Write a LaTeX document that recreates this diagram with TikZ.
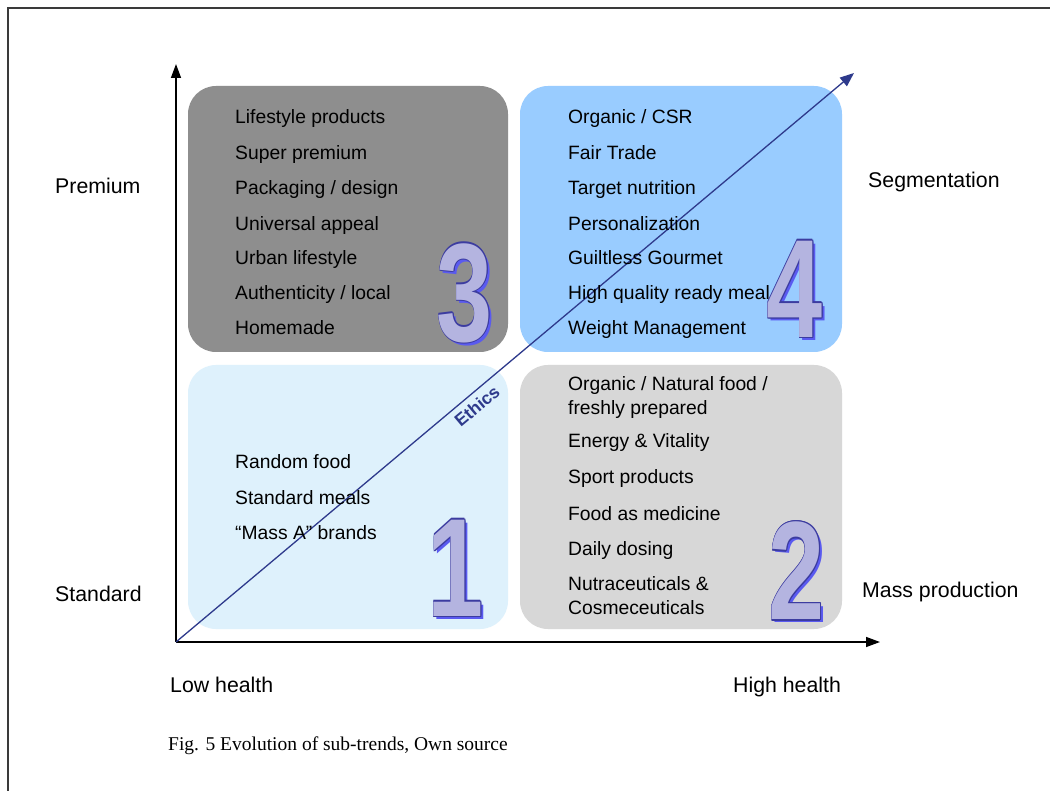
\documentclass[tikz,border=0pt]{standalone}
\usepackage{fontspec}
\setmainfont{Liberation Sans}
\newfontfamily\capfont{Liberation Serif}
\usetikzlibrary{arrows.meta}

\definecolor{quadgray}{HTML}{8E8E8E}
\definecolor{quadblue}{HTML}{99CCFF}
\definecolor{quadpale}{HTML}{DEF1FC}
\definecolor{quadlight}{HTML}{D7D7D7}
\definecolor{digitfill}{HTML}{B4B4E0}
\definecolor{digitline}{HTML}{3C3CA0}
\definecolor{digitshadow}{HTML}{5A5AF0}
\definecolor{ethicsblue}{HTML}{2E3A8C}
\definecolor{framegray}{HTML}{3A3A3A}

% outlined, shadowed quadrant number
\newcommand\quadnumber[3]{%
  \node[digit, text=digitshadow, xshift=3pt, yshift=-3pt] at (#2) {#3};
  \foreach \dx/\dy in {1.3/0,-1.3/0,0/1.3,0/-1.3,0.9/0.9,-0.9/0.9,0.9/-0.9,-0.9/-0.9}
    \node[digit, text=digitline, xshift=\dx pt, yshift=\dy pt] at (#2) {#3};
  \node[digit, text=digitfill] (#1) at (#2) {#3};
}

\begin{document}
\begin{tikzpicture}[x=1pt, y=-1pt,
  quad/.style={rounded corners=28pt, draw=none},
  % items are placed by the vertical middle of their capitals
  item/.style={anchor=base west, inner sep=0pt, font=\fontsize{19.3}{22}\selectfont,
               yshift=-7pt},
  axislabel/.style={anchor=base west, inner sep=0pt, font=\fontsize{21.3}{24}\selectfont,
               yshift=-7.5pt},
  digit/.style={inner sep=0pt, font=\fontsize{140}{140}\selectfont\bfseries, xscale=0.72},
  axis/.style={line width=1.5pt, -{Triangle[length=14pt,width=10pt]}},
  trend/.style={line width=1.3pt, draw=ethicsblue, -{Triangle[length=14pt,width=11pt]}},
]
\useasboundingbox (0,0) rectangle (1050,791);
\fill[white] (0,0) rectangle (1050,791);

% page frame
\draw[line width=1.6pt, framegray] (8,791) -- (8,8) -- (1050,8);

% quadrants
\fill[quad, quadgray]  (188,86)  rectangle (508,352);
\fill[quad, quadblue]  (520,86)  rectangle (842,352);
\fill[quad, quadpale]  (188,365) rectangle (508,629);
\fill[quad, quadlight] (520,365) rectangle (842,629);

% axes
\coordinate (O) at (176,642);
\coordinate (ytip) at (176,64);
\coordinate (xtip) at (880,642);
\coordinate (etip) at (854,73);
\draw[axis] (O) -- (ytip);
\draw[axis] (O) -- (xtip);

% ethics trend
\draw[trend] (O) -- (etip);
\node[inner sep=0pt, rotate=40, text=ethicsblue, font=\fontsize{17.5}{20}\selectfont\bfseries]
  (ethics) at (477,406) {Ethics};

% quadrant numbers
\quadnumber{n3}{465,293}{3}
\quadnumber{n4}{795,289}{4}
\quadnumber{n1}{456,568}{1}
\quadnumber{n2}{797,571}{2}

% quadrant 3
\node[item] (a1) at (235,117) {Lifestyle products};
\node[item] (a2) at (235,153) {Super premium};
\node[item] (a3) at (235,188) {Packaging / design};
\node[item] (a4) at (235,224) {Universal appeal};
\node[item] (a5) at (235,258) {Urban lifestyle};
\node[item] (a6) at (235,293) {Authenticity / local};
\node[item] (a7) at (235,328) {Homemade};

% quadrant 4
\node[item] (b1) at (568,117) {Organic / CSR};
\node[item] (b2) at (568,153) {Fair Trade};
\node[item] (b3) at (568,188) {Target nutrition};
\node[item] (b4) at (568,224) {Personalization};
\node[item] (b5) at (568,258) {Guiltless Gourmet};
\node[item] (b6) at (568,293) {High quality ready meal};
\node[item] (b7) at (568,328) {Weight Management};

% quadrant 1
\node[item] (c1) at (235,462) {Random food};
\node[item] (c2) at (235,497) {Standard meals};
\node[item] (c3) at (235,532) {“Mass A” brands};

% quadrant 2
\node[item] (d1) at (568,384) {Organic / Natural food /};
\node[item] (d1b) at (568,408) {freshly prepared};
\node[item] (d2) at (568,441) {Energy \& Vitality};
\node[item] (d3) at (568,477) {Sport products};
\node[item] (d4) at (568,513) {Food as medicine};
\node[item] (d5) at (568,548) {Daily dosing};
\node[item] (d6) at (568,583) {Nutraceuticals \&};
\node[item] (d6b) at (568,607) {Cosmeceuticals};

% axis labels
\node[axislabel] (premium) at (55,186) {Premium};
\node[axislabel] (standard) at (55,594) {Standard};
\node[axislabel] (segment) at (868,180) {Segmentation};
\node[axislabel] (mass) at (862,590) {Mass production};
\node[axislabel] (lowh) at (170,685) {Low health};
\node[axislabel] (highh) at (733,685) {High health};

% caption
\node[anchor=west, inner sep=0pt, font=\capfont\fontsize{19.5}{22}\selectfont]
  (caption) at (168,746) {Fig. 5 Evolution of sub-trends, Own source};
\end{tikzpicture}
\end{document}
